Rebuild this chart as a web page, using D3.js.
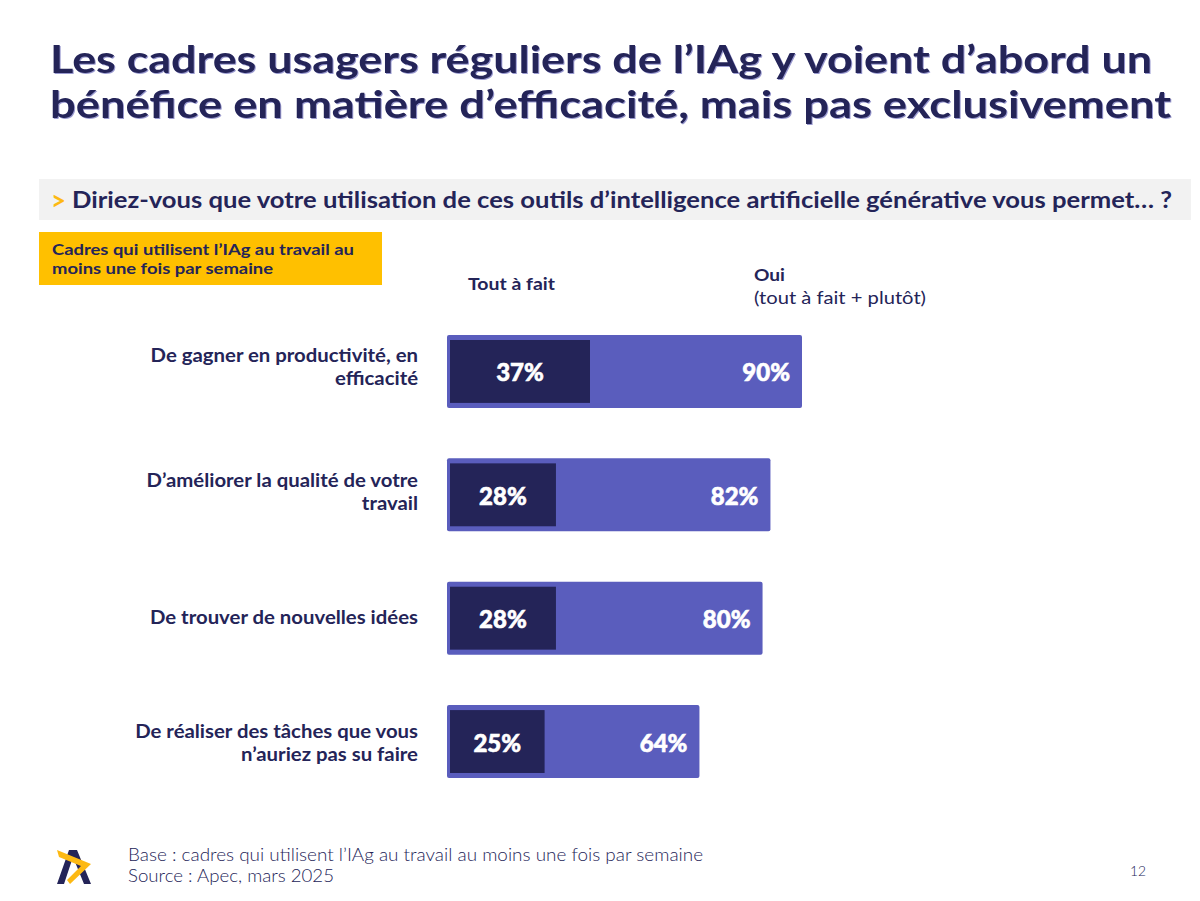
<!DOCTYPE html>
<html>
<head>
<meta charset="utf-8">
<script src="https://cdn.jsdelivr.net/npm/d3@7"></script>
<style>
  html, body { margin: 0; padding: 0; background: #fff; }
  svg { display: block; }
  text { font-family: Lato, "Open Sans", sans-serif; }
</style>
</head>
<body>
<script>
// data
var categories = [
  ["De gagner en productivité, en", "efficacité"],
  ["D’améliorer la qualité de votre", "travail"],
  ["De trouver de nouvelles idées"],
  ["De réaliser des tâches que vous", "n’auriez pas su faire"]
];
var toutAFait = [37, 28, 28, 25];
var oui = [90, 82, 80, 64];

var navy = "#242458", violet = "#5a5dbd", yellow = "#ffc000", logoYellow = "#fdb913";

var width = 1200, height = 901;

var svg = d3.select("body").append("svg")
    .attr("width", width)
    .attr("height", height);

// x scales: the dark bar sits inside the violet one, so it has its own range
var xOui = d3.scaleLinear().domain([0, 90]).range([447, 802]);
var xTout = d3.scaleLinear().domain([0, 37]).range([450, 590]);
var y = d3.scaleBand().domain(d3.range(categories.length)).range([335, 778]).paddingInner(0.409);

// text helper, textLength keeps the widths of the original font
function label(s, x, yy, size, weight, color, len, anchor) {
  var t = svg.append("text")
      .attr("x", x)
      .attr("y", yy)
      .attr("font-size", size)
      .attr("font-weight", weight)
      .attr("fill", color)
      .attr("text-anchor", anchor || "start")
      .text(s);
  if (len) t.attr("textLength", len).attr("lengthAdjust", "spacingAndGlyphs");
  return t;
}

// title
label("Les cadres usagers réguliers de l’IAg y voient d’abord un", 50, 73, 38, 700, navy, 1102)
    .style("filter", "drop-shadow(1px 1px 0.5px #9a9ad0)");
label("bénéfice en matière d’efficacité, mais pas exclusivement", 50, 118, 38, 700, navy, 1121)
    .style("filter", "drop-shadow(1px 1px 0.5px #9a9ad0)");

// question band
svg.append("rect").attr("x", 39).attr("y", 179).attr("width", 1152).attr("height", 41).attr("fill", "#f2f2f2");
label(">", 51, 210, 27, 700, logoYellow, 15);
label("Diriez-vous que votre utilisation de ces outils d’intelligence artificielle générative vous permet… ?", 72, 208, 23, 700, navy, 1100);

// population box
svg.append("rect").attr("x", 39).attr("y", 232).attr("width", 343).attr("height", 53).attr("fill", yellow);
label("Cadres qui utilisent l’IAg au travail au", 52, 255, 16, 700, navy, 302);
label("moins une fois par semaine", 52, 274, 16, 700, navy, 221);

// column headers
label("Tout à fait", 468, 290, 17, 700, navy, 87);
label("Oui", 754, 281, 17, 700, navy, 31);
label("(tout à fait + plutôt)", 754, 304, 17, 400, navy, 172);

// bars
var rows = svg.selectAll(".row")
    .data(d3.range(categories.length))
  .enter().append("g")
    .attr("class", "row");

rows.append("rect")
    .attr("x", xOui(0))
    .attr("y", function(i) { return y(i); })
    .attr("width", function(i) { return xOui(oui[i]) - xOui(0); })
    .attr("height", y.bandwidth())
    .attr("rx", 2)
    .attr("fill", violet);

rows.append("rect")
    .attr("x", xTout(0))
    .attr("y", function(i) { return y(i) + 5; })
    .attr("width", function(i) { return xTout(toutAFait[i]) - xTout(0); })
    .attr("height", y.bandwidth() - 10)
    .attr("fill", navy);

function valueLabel(sel) {
  sel.attr("y", function(i) { return y(i) + y.bandwidth() / 2 + 10; })
      .attr("font-size", 24)
      .attr("font-weight", 900)
      .attr("fill", "#fff")
      .attr("stroke", "#fff")
      .attr("stroke-width", 0.6);
}

rows.append("text")
    .attr("x", function(i) { return (xTout(0) + xTout(toutAFait[i])) / 2; })
    .attr("text-anchor", "middle")
    .call(valueLabel)
    .text(function(i) { return toutAFait[i] + "%"; });

rows.append("text")
    .attr("x", function(i) { return xOui(oui[i]) - 12; })
    .attr("text-anchor", "end")
    .call(valueLabel)
    .text(function(i) { return oui[i] + "%"; });

// category labels, the first line does not sit at the same height on each row
var labelShift = [-9.5, -7.5, 6, -3.5];

rows.each(function(i) {
  var g = d3.select(this);
  var mid = y(i) + y.bandwidth() / 2;
  categories[i].forEach(function(s, k) {
    var t = g.append("text")
        .attr("x", 418)
        .attr("y", mid + labelShift[i] + k * 23)
        .attr("text-anchor", "end")
        .attr("font-size", 18)
        .attr("font-weight", 700)
        .attr("fill", navy)
        .text(s);
    // original font is wider than Lato
    t.attr("textLength", t.node().getComputedTextLength() * 1.13)
        .attr("lengthAdjust", "spacingAndGlyphs");
  });
});

// logo
svg.append("path").attr("d", "M69 850 L77 850 L91 884 L84 884 L73 857 L64 884 L57 884 Z").attr("fill", navy);
svg.append("path").attr("d", "M57 850 L91 864 L70 884 L67 880 L81 866 L59 857 Z").attr("fill", logoYellow);

// footer
label("Base : cadres qui utilisent l’IAg au travail au moins une fois par semaine", 128, 861, 17, 300, navy, 575);
label("Source : Apec, mars 2025", 128, 882, 17, 300, navy, 206);
label("12", 1130, 876, 14, 300, navy, 16);
</script>
</body>
</html>
